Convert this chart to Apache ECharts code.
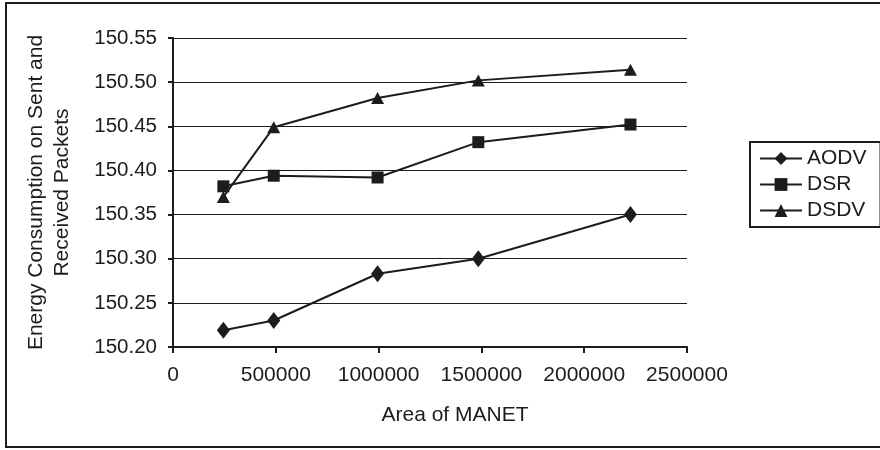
<!DOCTYPE html>
<html>
<head>
<meta charset="utf-8">
<script src="https://cdn.jsdelivr.net/npm/echarts@6/dist/echarts.min.js"></script>
<style>
  html, body { margin: 0; padding: 0; background: #fff; }
  #chart { width: 880px; height: 450px; }
</style>
</head>
<body>
<div id="chart"></div>
<script>
// Network area (x) for each simulation run
const areas = [245000, 490000, 995000, 1485000, 2225000];

// Energy consumed on sent and received packets, per protocol
const aodv = [150.219, 150.230, 150.283, 150.300, 150.350];
const dsr  = [150.382, 150.394, 150.392, 150.432, 150.452];
const dsdv = [150.370, 150.449, 150.482, 150.502, 150.514];

const seriesNames = ['AODV', 'DSR', 'DSDV'];

// Axis ranges
const yMin = 150.20, yMax = 150.55, yStep = 0.05;
const xMin = 0, xMax = 2500000, xStep = 500000;

const FONT = '"Liberation Sans", Arial, sans-serif';
const INK = '#1c1c1c';

function pairs(xs, ys) {
  return xs.map((x, i) => [x, ys[i]]);
}

function lineSeries(name, values, symbol, size) {
  return {
    name: name,
    type: 'line',
    data: pairs(areas, values),
    symbol: symbol,
    symbolSize: size,
    showAllSymbol: true,
    lineStyle: { color: INK, width: 2 },
    itemStyle: { color: INK, borderWidth: 0 },
    emphasis: { disabled: true },
    animation: false
  };
}

const chart = echarts.init(document.getElementById('chart'), null, { renderer: 'canvas' });

chart.setOption({
  animation: false,
  backgroundColor: '#ffffff',
  textStyle: { fontFamily: FONT, color: INK },
  grid: { left: 173, right: 193, top: 38, bottom: 103, containLabel: false },
  graphic: [{
    type: 'rect',
    shape: { x: 6, y: 3, width: 880, height: 444 },
    style: { fill: 'none', stroke: INK, lineWidth: 2 },
    silent: true,
    z: 100
  }],
  legend: {
    orient: 'vertical',
    left: 750,
    top: 142,
    data: seriesNames,
    itemWidth: 42,
    itemHeight: 16,
    itemGap: 5,
    padding: [6, 14, 6, 9],
    borderColor: INK,
    borderWidth: 2,
    backgroundColor: '#fff',
    selectedMode: false,
    textStyle: { fontFamily: FONT, fontSize: 21, color: INK }
  },
  xAxis: {
    type: 'value',
    min: xMin,
    max: xMax,
    interval: xStep,
    name: 'Area of MANET',
    nameLocation: 'middle',
    nameGap: 58,
    nameTextStyle: { fontFamily: FONT, fontSize: 21, color: INK, padding: [0, 0, 0, 50] },
    axisLine: { show: true, onZero: false, lineStyle: { color: INK, width: 2 } },
    axisTick: { show: true, length: 6, lineStyle: { color: INK, width: 2 } },
    axisLabel: {
      fontFamily: FONT, fontSize: 21, color: INK, margin: 18,
      formatter: v => String(v)
    },
    splitLine: { show: false }
  },
  yAxis: {
    type: 'value',
    min: yMin,
    max: yMax,
    interval: yStep,
    name: 'Energy Consumption on Sent and\nReceived Packets',
    nameLocation: 'middle',
    nameRotate: 90,
    nameGap: 98,
    nameTextStyle: { fontFamily: FONT, fontSize: 21, color: INK, lineHeight: 26 },
    axisLine: { show: true, lineStyle: { color: INK, width: 2 } },
    axisTick: { show: true, length: 5, lineStyle: { color: INK, width: 2 } },
    axisLabel: {
      fontFamily: FONT, fontSize: 20.5, color: INK, margin: 16,
      formatter: v => v.toFixed(2)
    },
    splitLine: { show: true, lineStyle: { color: INK, width: 1.2 } }
  },
  series: [
    lineSeries('AODV', aodv, 'diamond', [13, 17]),
    lineSeries('DSR', dsr, 'rect', [12, 12]),
    lineSeries('DSDV', dsdv, 'triangle', [13, 12])
  ]
});
</script>
</body>
</html>
